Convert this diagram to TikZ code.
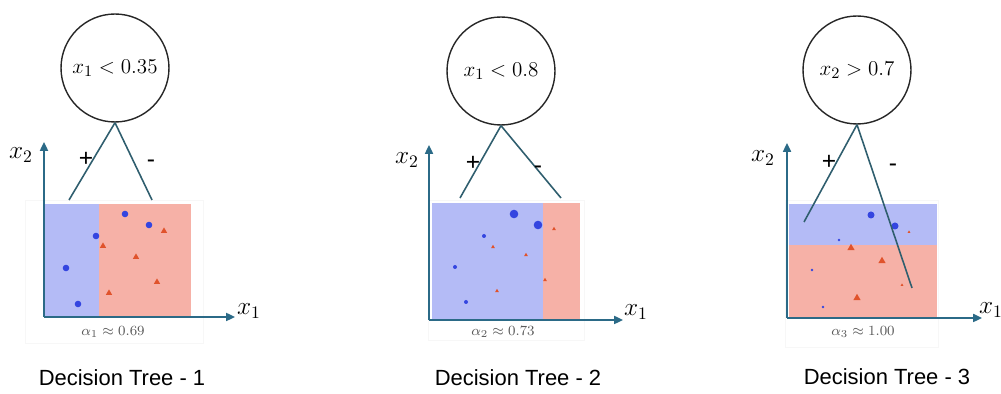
\documentclass[tikz,border=0pt]{standalone}
\usepackage{amsmath}
\usepackage{fontspec}
\setsansfont{Liberation Sans}
\usepackage{xcolor}
\usepackage{tikz}
\usetikzlibrary{arrows.meta}
\definecolor{axisteal}{HTML}{2B6A87}
\definecolor{linkteal}{HTML}{2F5E6E}
\definecolor{regblue}{HTML}{B4BBF6}
\definecolor{regred}{HTML}{F6B1A7}
\definecolor{dotblue}{HTML}{3445E0}
\definecolor{trired}{HTML}{E0532C}
\newcommand{\bdot}[3]{\fill[dotblue] (#1,#2) circle (#3);}
\newcommand{\rtri}[3]{\fill[trired] (#1,#2) ++(0,{-#3}) -- ++({0.866*#3},{1.5*#3}) -- ++({-1.732*#3},0) -- cycle;}

\begin{document}
\begin{tikzpicture}[x=0.02cm,y=-0.02cm,every node/.style={inner sep=0pt},
  test/.style={circle,draw=black!85,line width=0.8pt,minimum size=2.16cm,font=\fontsize{13}{15}\selectfont},
  link/.style={draw=linkteal,line width=0.9pt},
  axis/.style={draw=axisteal,line width=1.1pt,-{Triangle[length=5pt,width=4.5pt]}},
  sign/.style={font=\sffamily\fontsize{14}{16}\selectfont},
  axlabel/.style={font=\fontsize{14}{16}\selectfont},
  weight/.style={text=black!65,font=\fontsize{8}{9}\selectfont},
  title/.style={font=\sffamily\fontsize{12.5}{15}\selectfont}]
  \useasboundingbox (0,0) rectangle (1001,394);
  % tree 1
  \draw[black!3] (25,200) rectangle (203,343);
  \fill[regblue] (45,204) rectangle (99,317); \fill[regred] (99,204) rectangle (191,317);
  \bdot{125}{214}{3.3} \bdot{149}{225}{3.3} \bdot{96}{236}{3.3} \bdot{66}{268}{3.3} \bdot{78}{304}{3.3}
  \rtri{164}{231}{3.6} \rtri{103}{246}{3.6} \rtri{136}{257}{3.6} \rtri{157}{282}{3.6} \rtri{109}{293}{3.6}
  \node[test] (t1) at (115,68) {$x_1 < 0.35$};
  \coordinate (t1p) at (69,200); \coordinate (t1m) at (152,200);
  \draw[link] (t1.south) -- (t1p); \draw[link] (t1.south) -- (t1m);
  \node[sign] (p1) at (86,159) {+}; \node[sign] (m1) at (151,164) {-};
  \coordinate (o1) at (44,317); \coordinate (y1) at (44,142); \coordinate (x1) at (235,317);
  \draw[axis] (o1) -- (y1); \draw[axis] (o1) -- (x1);
  \node[axlabel] (ya1) at (21,155) {$x_2$}; \node[axlabel] (xa1) at (249,311) {$x_1$};
  \node[weight] (w1) at (113,332) {$\alpha_1 \approx 0.69$};
  \node[title] (dt1) at (122,378) {Decision Tree - 1};
  % tree 2
  \draw[black!3] (428,200) rectangle (584,340);
  \fill[regblue] (432,203) rectangle (543,320); \fill[regred] (543,203) rectangle (580,320);
  \bdot{514}{214}{4.3} \bdot{538}{225}{4.3} \bdot{484}{236}{2} \bdot{455}{267}{2} \bdot{466}{302}{2}
  \rtri{554}{229}{2.2} \rtri{493}{247}{2.2} \rtri{526}{255}{2.2} \rtri{545}{280}{2.2} \rtri{497}{291}{2.2}
  \node[test] (t2) at (501,71) {$x_1 < 0.8$};
  \coordinate (t2p) at (460,198); \coordinate (t2m) at (561,198);
  \draw[link] (t2.south) -- (t2p); \draw[link] (t2.south) -- (t2m);
  \node[sign] (p2) at (473,163) {+}; \node[sign] (m2) at (538,170) {-};
  \coordinate (o2) at (429,320); \coordinate (y2) at (429,145); \coordinate (x2) at (623,320);
  \draw[axis] (o2) -- (y2); \draw[axis] (o2) -- (x2);
  \node[axlabel] (ya2) at (407,160) {$x_2$}; \node[axlabel] (xa2) at (636,312) {$x_1$};
  \node[weight] (w2) at (503,332) {$\alpha_2 \approx 0.73$};
  \node[title] (dt2) at (518,378) {Decision Tree - 2};
  % tree 3
  \draw[black!3] (785,200) rectangle (938,347);
  \fill[regblue] (789,204) rectangle (937,245); \fill[regred] (789,245) rectangle (937,318);
  \bdot{871}{215}{3.5} \bdot{895}{226}{3.5} \bdot{839}{240}{1.4} \bdot{812}{270}{1.4} \bdot{823}{307}{1.4}
  \rtri{909}{232}{1.6} \rtri{851}{248}{4.2} \rtri{882}{261}{4.2} \rtri{902}{285}{1.6} \rtri{857}{298}{4.2}
  \node[test] (t3) at (857,70) {$x_2 > 0.7$};
  \coordinate (t3p) at (804,222); \coordinate (t3m) at (912,288);
  \draw[link] (t3.south) -- (t3p); \draw[link] (t3.south) -- (t3m);
  \node[sign] (p3) at (829,162) {+}; \node[sign] (m3) at (893,168) {-};
  \coordinate (o3) at (787,318); \coordinate (y3) at (787,143); \coordinate (x3) at (982,318);
  \draw[axis] (o3) -- (y3); \draw[axis] (o3) -- (x3);
  \node[axlabel] (ya3) at (763,158) {$x_2$}; \node[axlabel] (xa3) at (991,310) {$x_1$};
  \node[weight] (w3) at (863,332) {$\alpha_3 \approx 1.00$};
  \node[title] (dt3) at (887,377) {Decision Tree - 3};
\end{tikzpicture}
\end{document}
